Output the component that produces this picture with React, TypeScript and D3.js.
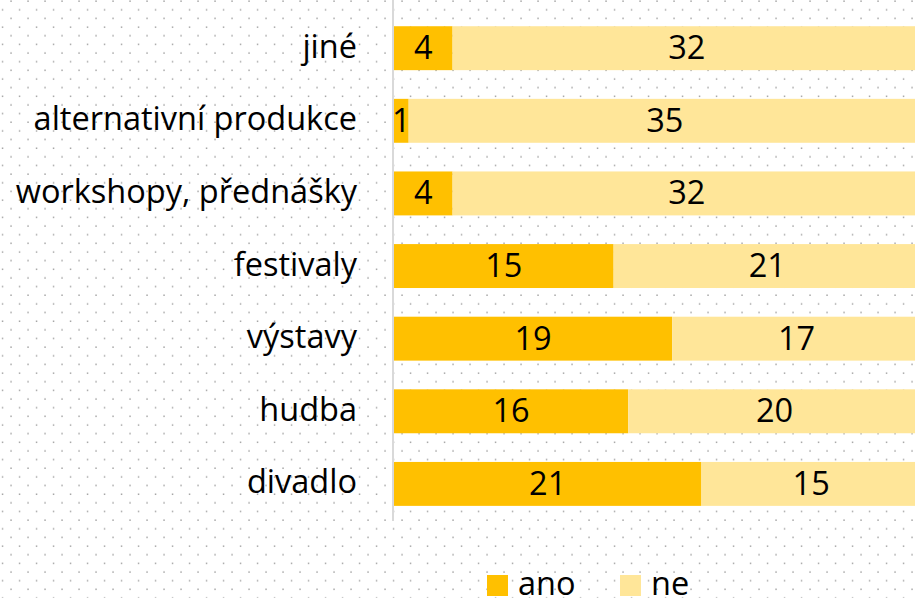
import React from "react";
import * as d3 from "d3";

const categories = ["jiné", "alternativní produkce", "workshopy, přednášky", "festivaly", "výstavy", "hudba", "divadlo"];
const ano = [4, 1, 4, 15, 19, 16, 21];
const ne = [32, 35, 32, 21, 17, 20, 15];
const seriesNames = ["ano", "ne"];
const colors = ["#FFC000", "#FFE699"];

const W = 915;
const H = 598;
const FONT = "'Open Sans', sans-serif";
const FS = 32.5;

export default function App() {
  const x = d3.scaleLinear().domain([0, 36]).range([394, 921]);
  const y = d3.scaleBand().domain(categories).range([11.7, 520.4]).paddingInner(0.395).paddingOuter(0.2);
  const bw = y.bandwidth();
  return (
    <div style={{ position: "fixed", left: 0, top: 0 }}>
      <svg width={W} height={H} style={{ display: "block" }}>
        <defs>
          <pattern id="dots" x="0" y="0" width="17" height="17.3" patternUnits="userSpaceOnUse">
            <rect x="10.3" y="0.4" width="1.5" height="1.5" fill="#a6a6a6" />
            <rect x="1.8" y="9.1" width="1.5" height="1.5" fill="#a6a6a6" />
          </pattern>
        </defs>
        <rect x={0} y={0} width={W} height={H} fill="#fff" />
        <rect x={0} y={0} width={W} height={H} fill="url(#dots)" />
        {categories.map((c, i) => {
          const yy = y(c)!;
          const a = ano[i];
          const n = ne[i];
          const cy = yy + bw / 2;
          return (
            <g key={c}>
              <rect x={x(0)} y={yy} width={x(a) - x(0)} height={bw} fill={colors[0]} />
              <rect x={x(a)} y={yy} width={x(a + n) - x(a)} height={bw} fill={colors[1]} />
              <text x={357} y={cy + 9.5} textAnchor="end" fontFamily={FONT} fontSize={FS} fill="#000">{c}</text>
              <text x={(x(0) + x(a)) / 2} y={cy + 11} textAnchor="middle" fontFamily={FONT} fontSize={FS} fill="#000">{a}</text>
              <text x={(x(a) + x(a + n)) / 2} y={cy + 11} textAnchor="middle" fontFamily={FONT} fontSize={FS} fill="#000">{n}</text>
            </g>
          );
        })}
        <line x1={393} x2={393} y1={0} y2={521} stroke="#d9d9d9" strokeWidth={2} />
        {seriesNames.map((s, i) => {
          const lx = [487, 620][i];
          return (
            <g key={s}>
              <rect x={lx} y={575} width={21} height={21} fill={colors[i]} />
              <text x={lx + 31} y={595} fontFamily={FONT} fontSize={FS} fill="#000">{s}</text>
            </g>
          );
        })}
      </svg>
    </div>
  );
}
